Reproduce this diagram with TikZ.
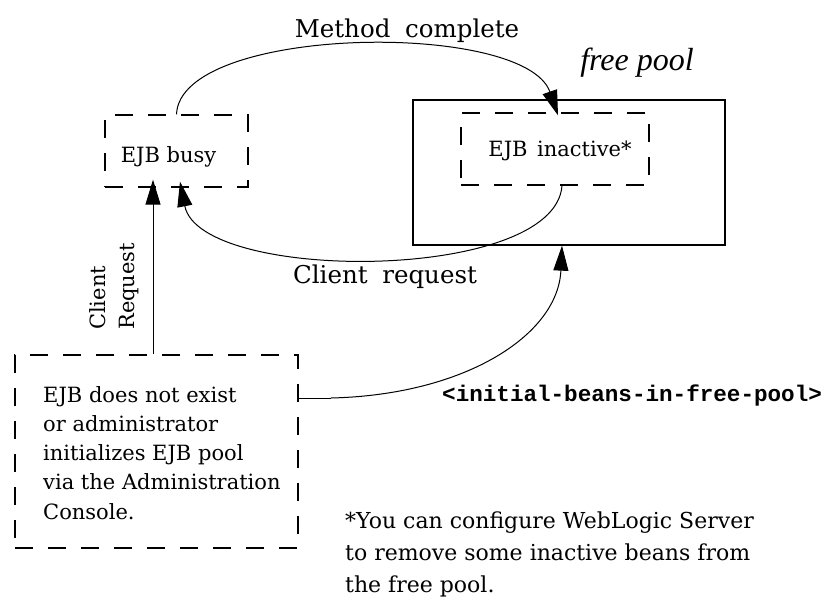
\documentclass[tikz,border=0pt]{standalone}
\usepackage{fontspec}
\setmainfont{DejaVu Serif}
\setmonofont{Liberation Mono}
\newfontfamily\lserif{Liberation Serif}
\usetikzlibrary{arrows.meta}
\tikzset{
  dbox/.style={draw, line width=1.3pt, dash pattern=on 18pt off 15pt, inner sep=0pt, anchor=center},
  sbox/.style={draw, line width=1.3pt, inner sep=0pt, anchor=center},
  txt/.style={font=\fontsize{21}{25}\selectfont, inner sep=0pt},
  lbl/.style={font=\fontsize{24.5}{28}\selectfont, inner sep=0pt},
  note/.style={font=\fontsize{22}{26}\selectfont, inner sep=0pt},
  conn/.style={line width=1pt},
  arr/.style={line width=1pt, -{Triangle[length=25pt,width=15pt]}},
}
\begin{document}
\begin{tikzpicture}[x=1pt,y=-1pt]
\useasboundingbox (0,0) rectangle (826,603);
% boxes
\node[dbox, minimum width=143pt, minimum height=72pt] (busy) at (176.5,151) {};
\node[sbox, minimum width=312pt, minimum height=145pt] (pool) at (569,172.5) {};
\node[dbox, minimum width=188pt, minimum height=72pt] (inact) at (555,149) {};
\node[dbox, minimum width=283pt, minimum height=193pt] (init) at (156.5,451.5) {};
% box texts
\node[txt, anchor=base] (busyt) at (168.5,162) {EJB busy};
\node[txt, anchor=base] (inactt) at (560,156) {EJB\hspace{0.45em}inactive*};
\node[txt, anchor=base west] (i1) at (43,402) {EJB does not exist};
\node[txt, anchor=base west] (i2) at (43,431) {or administrator};
\node[txt, anchor=base west] (i3) at (43,460) {initializes EJB pool};
\node[txt, anchor=base west] (i4) at (43,489) {via the Administration};
\node[txt, anchor=base west] (i5) at (43,519) {Console.};
% labels
\node[lbl, anchor=base] (mc) at (407,37) {Method\hspace{0.6em}complete};
\node[lbl, anchor=base] (cr) at (385,283) {Client\hspace{0.6em}request};
\node[font=\lserif\itshape\fontsize{32}{36}\selectfont, inner sep=0pt, anchor=base] (fp) at (637,70) {free pool};
\node[txt, rotate=90, anchor=base west] (cl1) at (105,330) {Client};
\node[txt, rotate=90, anchor=base west] (cl2) at (134,330) {Request};
\node[font=\ttfamily\bfseries\fontsize{22.6}{26}\selectfont, inner sep=0pt, anchor=base west] (ib) at (442,401) {<initial-beans-in-free-pool>};
\node[note, anchor=base west] (n1) at (345,528) {*You can configure WebLogic Server};
\node[note, anchor=base west] (n2) at (345,560) {to remove some inactive beans from};
\node[note, anchor=base west] (n3) at (345,592) {the free pool.};
% connectors
\draw[arr] (busy.north) .. controls (180,25) and (525,20) .. ([xshift=3pt,yshift=-3pt]inact.north);
\draw[arr] ([xshift=7pt]inact.south) .. controls (555,283) and (200,283) .. ([xshift=3.5pt,yshift=6pt]busy.south);
\draw[arr] ([xshift=-3.5pt]init.north) -- ([xshift=-23.5pt,yshift=8pt]busy.south);
\coordinate (ie) at ([yshift=53.5pt]init.east);
\coordinate (ie2) at ([xshift=32pt,yshift=53.5pt]init.east);
\draw[conn] (ie) -- (ie2);
\draw[arr] (ie2) .. controls (465,395) and (558,335) .. ([xshift=-7pt]pool.south);
\end{tikzpicture}
\end{document}
